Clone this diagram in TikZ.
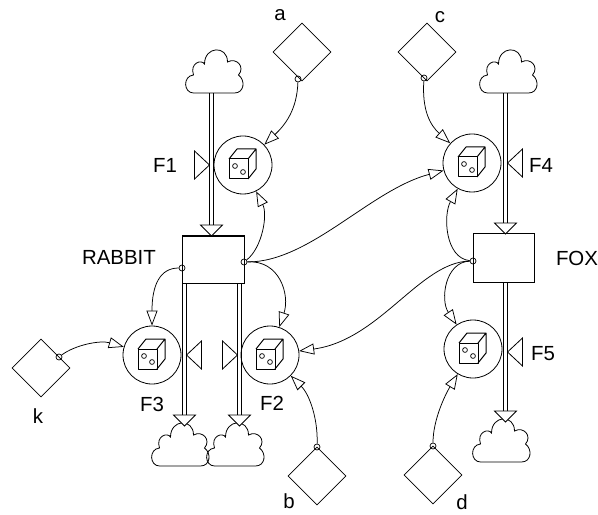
\documentclass[tikz,border=0pt]{standalone}
\usepackage{fontspec}
\setmainfont{Liberation Sans}
\usetikzlibrary{arrows.meta,calc,shapes.geometric}
\newcommand\dicepic[1]{%
  \begin{scope}[shift={(#1)}]
    \draw[line width=1bp,line join=round] (-14,-6) rectangle (5,14);
    \draw[line width=1bp,line join=round] (-14,-6) -- (-6,-16) -- (13,-16) -- (5,-6)
      (13,-16) -- (13,4) -- (5,14);
    \draw[line width=0.7bp] (-8,1) circle[radius=2.4] (0,7) circle[radius=2.4];
  \end{scope}}
\tikzset{
  stock/.style={draw, line width=1bp, inner sep=0pt, minimum width=62bp, minimum height=47bp},
  rate/.style={circle, draw, line width=0.8bp, inner sep=0pt, minimum size=58bp},
  conv/.style={diamond, draw, line width=0.7bp, inner sep=0pt, minimum width=58bp, minimum height=58bp},
  dot/.style={circle, draw, line width=0.7bp, inner sep=0pt, minimum size=6bp},
  cloudbox/.style={inner sep=0pt, minimum width=54bp, minimum height=40bp},
  lab/.style={inner sep=0pt, font=\fontsize{20.5}{24}\selectfont},
  pipe/.style={double, double distance=3bp, line width=1bp},
  conn/.style={line width=0.75bp, -{Triangle[open, length=15bp, width=11bp]}},
  flowhead/.pic={\draw[line width=0.8bp, fill=white] (-11,-11) -- (11,-11) -- (0,0) -- cycle;},
  valveL/.pic={\draw[line width=0.8bp] (0,0) -- (15,-14) -- (15,14) -- cycle;},
  valveR/.pic={\draw[line width=0.8bp] (0,0) -- (-15,-14) -- (-15,14) -- cycle;},
  cloudshape/.pic={\draw[line width=0.8bp] (-20,20) .. controls (-30,20) and (-31,3) .. (-20,2)
      .. controls (-24,-10) and (-12,-14) .. (-9,-9)
      .. controls (-9,-27) and (14,-28) .. (14,-11)
      .. controls (23,-16) and (32,-6) .. (25,2)
      .. controls (32,7) and (31,20) .. (21,20) -- cycle;}
}
\begin{document}
\begin{tikzpicture}[x=1bp,y=-1bp]
\useasboundingbox (0,0) rectangle (598,515);
% pipe end points
\coordinate (p1a) at (211.5,93);  \coordinate (p1b) at (211.5,225); \coordinate (p1t) at (211.5,236);
\coordinate (p4a) at (505.5,93);  \coordinate (p4b) at (505.5,223); \coordinate (p4t) at (505.5,234);
\coordinate (p3a) at (184.5,283); \coordinate (p3b) at (184.5,415); \coordinate (p3t) at (184.5,426);
\coordinate (p2a) at (239.5,283); \coordinate (p2b) at (239.5,415); \coordinate (p2t) at (239.5,426);
\coordinate (p5a) at (505.5,282); \coordinate (p5b) at (505.5,411); \coordinate (p5t) at (505.5,422);
% pipes
\draw[pipe] (p1a) -- (p1b);
\draw[pipe] (p4a) -- (p4b);
\draw[pipe] (p3a) -- (p3b);
\draw[pipe] (p2a) -- (p2b);
\draw[pipe] (p5a) -- (p5b);
% stocks
\node[stock] (rabbit) at (213,259.5) {};
\node[stock, minimum width=61bp, minimum height=48bp] (fox) at (503.5,258) {};
% clouds
\node[cloudbox] (cS1) at (213.5,73) {};
\node[cloudbox] (cS4) at (507.5,73) {};
\node[cloudbox] (cK3) at (179.5,446) {};
\node[cloudbox] (cK2) at (234.5,446) {};
\node[cloudbox] (cK5) at (500.5,442) {};
\foreach \n in {cS1,cS4,cK3,cK2,cK5} {\pic at (\n.center) {cloudshape};}
% flow heads
\pic at (p1t) {flowhead};
\pic at (p4t) {flowhead};
\pic at (p3t) {flowhead};
\pic at (p2t) {flowhead};
\pic at (p5t) {flowhead};
% valves
\pic (v1) at (209.5,165) {valveR};
\pic (v4) at (507.5,163) {valveL};
\pic (v3) at (186.5,355) {valveL};
\pic (v2) at (237.5,355) {valveR};
\pic (v5) at (507.5,352) {valveL};
% rates
\node[rate] (F1) at (243,165) {};
\node[rate] (F4) at (472,163) {};
\node[rate] (F3) at (152,355) {};
\node[rate] (F2) at (270,355) {};
\node[rate] (F5) at (473,349) {};
\foreach \n in {F1,F2,F3,F4,F5} {\dicepic{\n.center}}
% converters
\node[conv] (a) at (302,52) {};
\node[conv] (c) at (427,52) {};
\node[conv] (k) at (41,368) {};
\node[conv] (b) at (317,476) {};
\node[conv] (d) at (433,475) {};
% labels
\node[lab] (Rl) at (119,257) {RABBIT};
\node[lab] (Xl) at (577,258) {FOX};
\node[lab] (F1l) at (165,165) {F1};
\node[lab] (F4l) at (541,165) {F4};
\node[lab] (F3l) at (152,404) {F3};
\node[lab] (F2l) at (272,403) {F2};
\node[lab] (F5l) at (543,354) {F5};
\node[lab] (al) at (280,15) {a};
\node[lab] (cl) at (440,17) {c};
\node[lab] (kl) at (38,416) {k};
\node[lab] (bl) at (289,501) {b};
\node[lab] (dl) at (462,502) {d};
% connector start dots
\node[dot] (aS) at (298,79) {};
\node[dot] (cS) at (424,78) {};
\node[dot] (kS) at (59,357) {};
\node[dot] (bS) at (317,447) {};
\node[dot] (dS) at (433,446) {};
\node[dot] (rL) at (182,268) {};
\node[dot] (rR) at (244,262) {};
\node[dot] (xL) at (473,261) {};
% connectors
\draw[conn] (aS) .. controls (297,110) and (285,125) .. (F1);
\draw[conn] (rR) .. controls (262,248) and (268,215) .. (F1);
\draw[conn] (rR) .. controls (310,262) and (370,190) .. (F4);
\draw[conn] (rR) .. controls (280,260) and (290,295) .. (F2);
\draw[conn] (rL) .. controls (160,268) and (152,285) .. (F3);
\draw[conn] (kS) .. controls (75,345) and (100,340) .. (F3);
\draw[conn] (bS) .. controls (318,420) and (310,395) .. (F2);
\draw[conn] (cS) .. controls (422,110) and (430,125) .. (F4);
\draw[conn] (xL) .. controls (445,258) and (443,215) .. (F4);
\draw[conn] (xL) .. controls (420,262) and (380,340) .. (F2);
\draw[conn] (xL) .. controls (445,262) and (440,300) .. (F5);
\draw[conn] (dS) .. controls (433,420) and (445,395) .. (F5);
\end{tikzpicture}
\end{document}
